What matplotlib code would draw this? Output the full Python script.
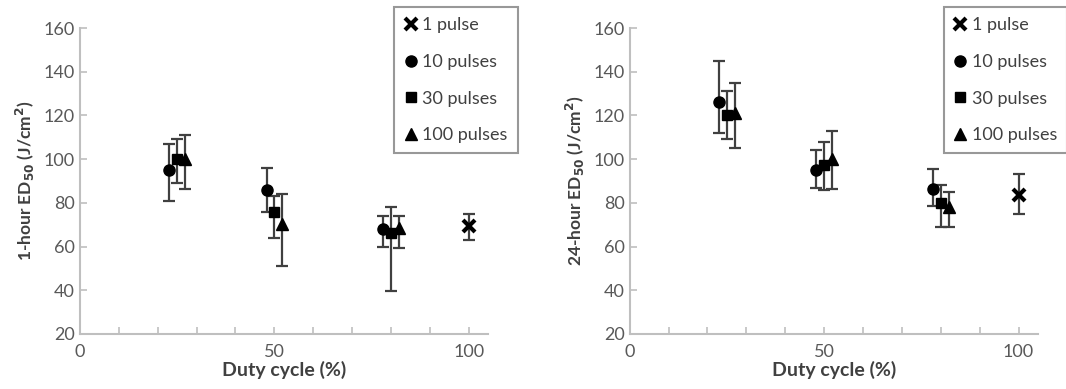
import numpy as np
import matplotlib.pyplot as plt
from matplotlib.lines import Line2D

plt.rcParams['font.family'] = ['Lato', 'DejaVu Sans']

# duty cycle positions (offset slightly per group, as in the original)
x_10 = [23, 48, 78]
x_30 = [25, 50, 80]
x_100 = [27, 52, 82]
x_1 = [100]

# 1-hour ED50 values and error bar limits (low, high)
h1_10 = [95, 86, 68]
h1_10_lo = [81, 76, 60]
h1_10_hi = [107, 96, 74]
h1_30 = [100, 76, 66]
h1_30_lo = [89, 64, 39.5]
h1_30_hi = [109, 83, 78]
h1_100 = [100, 70.5, 68.5]
h1_100_lo = [86.5, 51, 59.5]
h1_100_hi = [111, 84, 74]
h1_1 = [69.5]
h1_1_lo = [63]
h1_1_hi = [75]

# 24-hour ED50 values
h24_10 = [126, 95, 86.5]
h24_10_lo = [112, 87, 78.5]
h24_10_hi = [145, 104, 95.5]
h24_30 = [120, 97.5, 80]
h24_30_lo = [109, 86, 69]
h24_30_hi = [131, 108, 88]
h24_100 = [121, 100, 78]
h24_100_lo = [105, 86.5, 69]
h24_100_hi = [135, 113, 85]
h24_1 = [83.5]
h24_1_lo = [75]
h24_1_hi = [93]

labels = ["1 pulse", "10 pulses", "30 pulses", "100 pulses"]

err_col = '#404040'
txt_col = '#404040'
tick_col = '#595959'
spine_col = '#bfbfbf'


def draw(ax, series, ylabel):
    for x, y, lo, hi, m, ms in series:
        y = np.array(y)
        yerr = [y - np.array(lo), np.array(hi) - y]
        ax.errorbar(x, y, yerr=yerr, fmt='none', ecolor=err_col, elinewidth=1.6,
                    capsize=4, capthick=1.6, zorder=2)
        if m == 'x':
            ax.plot(x, y, 'x', color='black', ms=ms, mew=3, zorder=3)
        else:
            ax.plot(x, y, m, color='black', ms=ms, zorder=3)
    ax.set_xlim(0, 105)
    ax.set_ylim(20, 160)
    ax.set_xticks([0, 50, 100])
    ax.set_xticks(np.arange(0, 101, 10), minor=True)
    ax.set_yticks(np.arange(20, 161, 20))
    ax.tick_params(axis='both', which='both', direction='in', colors=spine_col,
                   labelcolor=tick_col, labelsize=13, length=5, width=1.2)
    ax.tick_params(axis='x', which='major', length=5, pad=7)
    for s in ['top', 'right']:
        ax.spines[s].set_visible(False)
    for s in ['left', 'bottom']:
        ax.spines[s].set_color(spine_col)
        ax.spines[s].set_linewidth(1.5)
    ax.set_xlabel("Duty cycle (%)", fontsize=14, fontweight='bold', color=txt_col, labelpad=1)
    ax.set_ylabel(ylabel, fontsize=12.5, fontweight='bold', color=txt_col, labelpad=5)

    handles = [
        Line2D([], [], ls='none', marker='x', color='black', ms=8, mew=3),
        Line2D([], [], ls='none', marker='o', color='black', ms=8),
        Line2D([], [], ls='none', marker='s', color='black', ms=7),
        Line2D([], [], ls='none', marker='^', color='black', ms=8),
    ]
    leg = ax.legend(handles, labels, loc='upper left', bbox_to_anchor=(0.77, 1.068),
                    borderaxespad=0, frameon=True, fancybox=False, fontsize=13,
                    labelspacing=1.15, handlelength=0.7, handletextpad=0.3,
                    borderpad=0.55, labelcolor=txt_col)
    leg.get_frame().set_edgecolor('#7f7f7f')
    leg.get_frame().set_linewidth(1.5)
    leg.set_clip_on(False)


fig = plt.figure(figsize=(10.66, 3.89), dpi=100)
ax1 = fig.add_axes([0.075, 0.1414, 0.383, 0.7866])
ax2 = fig.add_axes([0.5907, 0.1414, 0.383, 0.7866])

draw(ax1, [
    (x_10, h1_10, h1_10_lo, h1_10_hi, 'o', 8),
    (x_30, h1_30, h1_30_lo, h1_30_hi, 's', 7.5),
    (x_100, h1_100, h1_100_lo, h1_100_hi, '^', 8.5),
    (x_1, h1_1, h1_1_lo, h1_1_hi, 'x', 9),
], "1-hour ED$_{\\mathbf{50}}$ (J/cm$^{\\mathbf{2}}$)")

draw(ax2, [
    (x_10, h24_10, h24_10_lo, h24_10_hi, 'o', 8),
    (x_30, h24_30, h24_30_lo, h24_30_hi, 's', 7.5),
    (x_100, h24_100, h24_100_lo, h24_100_hi, '^', 8.5),
    (x_1, h24_1, h24_1_lo, h24_1_hi, 'x', 9),
], "24-hour ED$_{\\mathbf{50}}$ (J/cm$^{\\mathbf{2}}$)")

fig.savefig('out.png', dpi=100)
